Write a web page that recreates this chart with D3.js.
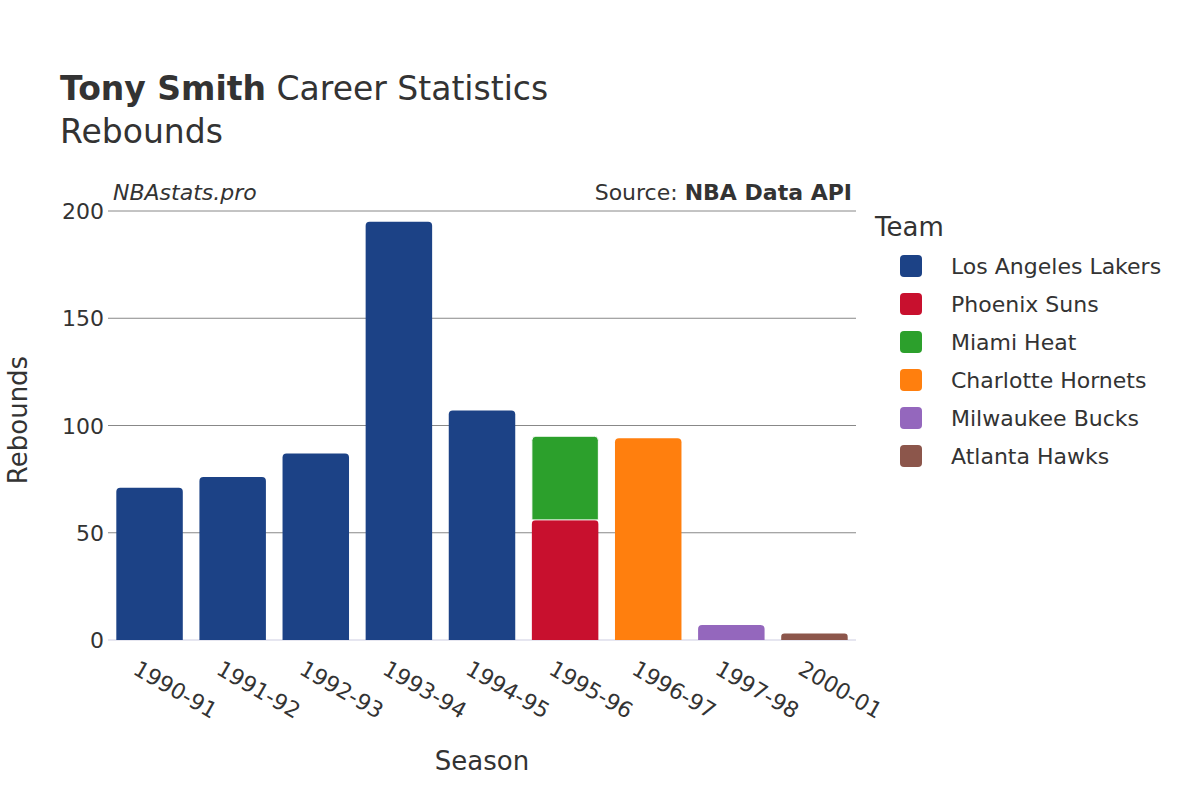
<!DOCTYPE html>
<html><head><meta charset="utf-8">
<script src="https://cdn.jsdelivr.net/npm/d3@7"></script>
<style>body{margin:0;background:#fff}text{font-family:"DejaVu Sans",sans-serif;fill:#333}</style>
</head><body><svg id="c" width="1200" height="800"></svg>
<script>
const seasons=["1990-91","1991-92","1992-93","1993-94","1994-95","1995-96","1996-97","1997-98","2000-01"];
const teams=["Los Angeles Lakers","Phoenix Suns","Miami Heat","Charlotte Hornets","Milwaukee Bucks","Atlanta Hawks"];
const colors=["#1c4286","#c8102e","#2ca02c","#ff7f0e","#9467bd","#8c564b"];
// segments stacked per season: [season, team, value]
const segSeason=["1990-91","1991-92","1992-93","1993-94","1994-95","1995-96","1995-96","1996-97","1997-98","2000-01"];
const segTeam=["Los Angeles Lakers","Los Angeles Lakers","Los Angeles Lakers","Los Angeles Lakers","Los Angeles Lakers","Phoenix Suns","Miami Heat","Charlotte Hornets","Milwaukee Bucks","Atlanta Hawks"];
const segValue=[71,76,87,195,107,56,39,94,7,3];
const yTicks=[0,50,100,150,200];

const svg=d3.select("#c");
const L=108,R=856,T=211,B=640;
const x=d3.scaleBand().domain(seasons).range([L,R]).paddingInner(0.2).paddingOuter(0.1);
const y=d3.scaleLinear().domain([0,200]).range([B,T]);
const col=d3.scaleOrdinal().domain(teams).range(colors);

svg.append("g").selectAll("line").data(yTicks).join("line")
 .attr("x1",L).attr("x2",R).attr("y1",d=>y(d)).attr("y2",d=>y(d))
 .attr("stroke",d=>d===0?"#e6e6f0":"#888").attr("stroke-width",d=>d===0?2:1);
svg.append("g").selectAll("text").data(yTicks).join("text")
 .attr("x",L-4).attr("y",d=>y(d)+8).attr("text-anchor","end").attr("font-size",22).text(d=>d);

const base={};
segSeason.forEach((s,i)=>{
 const b=base[s]||0;
 const y0=y(b),y1=y(b+segValue[i]);
 svg.append("path").attr("fill",col(segTeam[i]))
  .attr("d",()=>{const xx=x(segSeason[i]),w=x.bandwidth(),h=y0-y1,r=Math.min(4,h/2);
   return `M${xx},${y0}V${y1+r}Q${xx},${y1} ${xx+r},${y1}H${xx+w-r}Q${xx+w},${y1} ${xx+w},${y1+r}V${y0}Z`;})
  .attr("stroke","#fff").attr("stroke-width",b>0?1:0);
 base[s]=b+segValue[i];
});

svg.append("g").selectAll("text").data(seasons).join("text")
 .attr("transform",d=>`translate(${x(d)+x.bandwidth()/2-10},${B+20}) rotate(30)`)
 .attr("font-size",22).attr("dy","0.7em").text(d=>d);

svg.append("text").attr("x",482).attr("y",770).attr("text-anchor","middle").attr("font-size",26).text("Season");
svg.append("text").attr("transform","translate(27,420) rotate(-90)").attr("text-anchor","middle").attr("font-size",26).text("Rebounds");

const t=svg.append("text").attr("x",60).attr("y",100).attr("font-size",33);
t.append("tspan").attr("font-weight","bold").text("Tony Smith");
t.append("tspan").text(" Career Statistics");
svg.append("text").attr("x",60).attr("y",143).attr("font-size",33).text("Rebounds");
svg.append("text").attr("x",113).attr("y",200).attr("font-size",22).attr("font-style","italic").text("NBAstats.pro");
const s=svg.append("text").attr("x",852).attr("y",200).attr("text-anchor","end").attr("font-size",22);
s.append("tspan").text("Source: ");s.append("tspan").attr("font-weight","bold").text("NBA Data API");

svg.append("text").attr("x",875).attr("y",236).attr("font-size",26).text("Team");
const lg=svg.append("g").selectAll("g").data(teams).join("g").attr("transform",(d,i)=>`translate(0,${266+i*38})`);
lg.append("rect").attr("x",900).attr("y",-11).attr("width",22).attr("height",22).attr("rx",4).attr("fill",d=>col(d));
lg.append("text").attr("x",951).attr("y",8).attr("font-size",22).text(d=>d);
</script></body></html>
